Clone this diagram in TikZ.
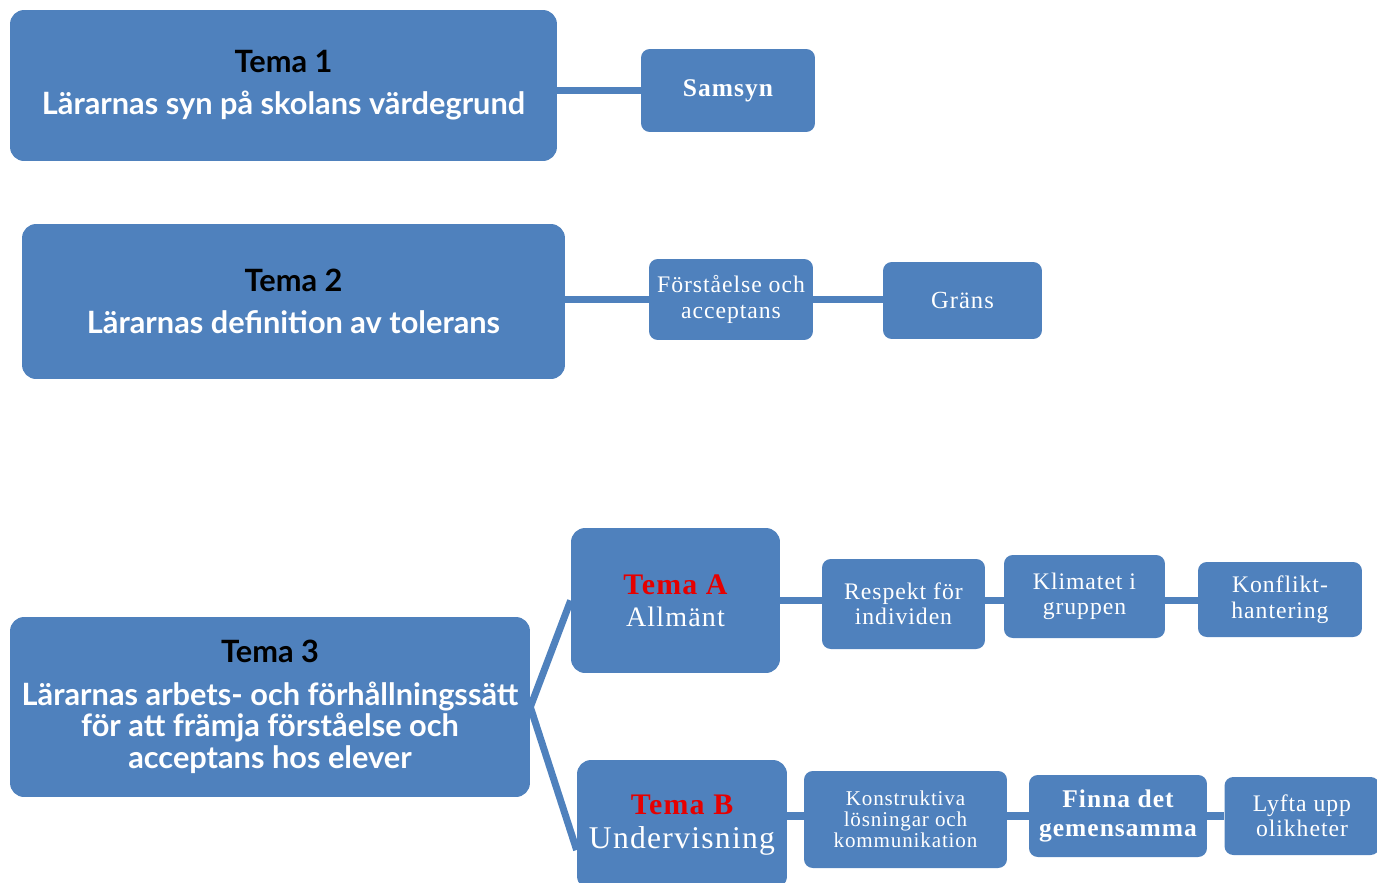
\documentclass[tikz,border=0pt]{standalone}
\usepackage{fontspec}
\usepackage{xcolor}
\newfontfamily\gillfont{Lato}
\newfontfamily\boxfont[LetterSpace=4]{Liberation Serif}
\definecolor{boxBlue}{RGB}{79,129,189}
\definecolor{temaRed}{RGB}{230,0,0}

\begin{document}
\begin{tikzpicture}[x=0.02cm,y=-0.02cm,
  tema/.style={fill=boxBlue,rounded corners=8pt,align=center,text=white,inner sep=0pt,font=\gillfont\bfseries\fontsize{17.5}{24}\selectfont},
  sub/.style={fill=boxBlue,rounded corners=5pt,align=center,text=white,inner sep=0pt,font=\boxfont\fontsize{13.5}{14.5}\selectfont},
  link/.style={draw=boxBlue,line width=4pt}]
\useasboundingbox (0,0) rectangle (1377,883);
\clip (0,0) rectangle (1377,883);
% Tema 1
\node[tema,minimum width=10.94cm,minimum height=3.02cm] (tema1) at (283.5,85.5)
  {\textcolor{black}{Tema 1}\\Lärarnas syn på skolans värdegrund};
\node[sub,minimum width=3.48cm,minimum height=1.66cm,font=\boxfont\bfseries\fontsize{14.5}{15}\selectfont] (samsyn) at (728,90.5) {Samsyn};
\draw[link] (tema1.east |- samsyn) -- (samsyn.west);
% Tema 2
\node[tema,minimum width=10.86cm,minimum height=3.1cm] (tema2) at (293.5,301.5)
  {\textcolor{black}{Tema 2}\\Lärarnas definition av tolerans};
\node[sub,minimum width=3.28cm,minimum height=1.62cm] (forst) at (731,299.5) {Förståelse och\\acceptans};
\node[sub,minimum width=3.18cm,minimum height=1.54cm,font=\boxfont\fontsize{14}{15}\selectfont] (grans) at (962.5,300.5) {Gräns};
\draw[link] (tema2.east |- forst) -- (forst.west);
\draw[link] (forst.east) -- (grans.west |- forst);
% Tema 3
\node[tema,minimum width=10.4cm,minimum height=3.6cm,font=\gillfont\bfseries\fontsize{17.5}{18}\selectfont] (tema3) at (270,707)
  {\textcolor{black}{Tema 3}\\[6pt]Lärarnas arbets- och förhållningssätt\\för att främja förståelse och\\acceptans hos elever};
\node[tema,minimum width=4.18cm,minimum height=2.9cm,font=\boxfont\fontsize{16}{18}\selectfont] (temaA) at (675.5,600.5)
  {\textcolor{temaRed}{\bfseries\fontsize{17}{18}\selectfont Tema A}\\Allmänt};
\node[tema,minimum width=4.2cm,minimum height=2.6cm,font=\boxfont\fontsize{18}{19}\selectfont] (temaB) at (682,825)
  {\textcolor{temaRed}{\bfseries\fontsize{17}{18}\selectfont Tema B}\\Undervisning};
\draw[link] (tema3.east) -- (temaA.west);
\draw[link] (tema3.east) -- ([yshift=-0.5cm]temaB.west);
% Tema A
\node[sub,minimum width=3.26cm,minimum height=1.8cm] (respekt) at (903.5,604) {Respekt för\\individen};
\node[sub,minimum width=3.22cm,minimum height=1.66cm] (klimat) at (1084.5,596.5) {Klimatet i\\gruppen};
\node[sub,minimum width=3.28cm,minimum height=1.5cm] (konflikt) at (1280,599.5) {Konflikt-\\hantering};
\draw[link] (temaA.east) -- (respekt.west |- temaA.east);
\draw[link] (respekt.east |- temaA.east) -- (klimat.west |- temaA.east);
\draw[link] (klimat.east |- temaA.east) -- (konflikt.west |- temaA.east);
% Tema B
\node[sub,minimum width=4.06cm,minimum height=1.94cm,font=\boxfont\fontsize{12}{12}\selectfont] (konstr) at (905.5,819.5) {Konstruktiva\\lösningar och\\kommunikation};
\node[sub,minimum width=3.56cm,minimum height=1.64cm,font=\boxfont\bfseries\fontsize{14.5}{16}\selectfont] (finna) at (1118,816) {Finna det\\gemensamma};
\node[sub,minimum width=3.1cm,minimum height=1.56cm] (lyfta) at (1302,816) {Lyfta upp\\olikheter};
\draw[link] (temaB.east |- finna) -- (konstr.west |- finna);
\draw[link] (konstr.east |- finna) -- (finna.west);
\draw[link] (finna.east) -- (lyfta.west |- finna);
\end{tikzpicture}
\end{document}
